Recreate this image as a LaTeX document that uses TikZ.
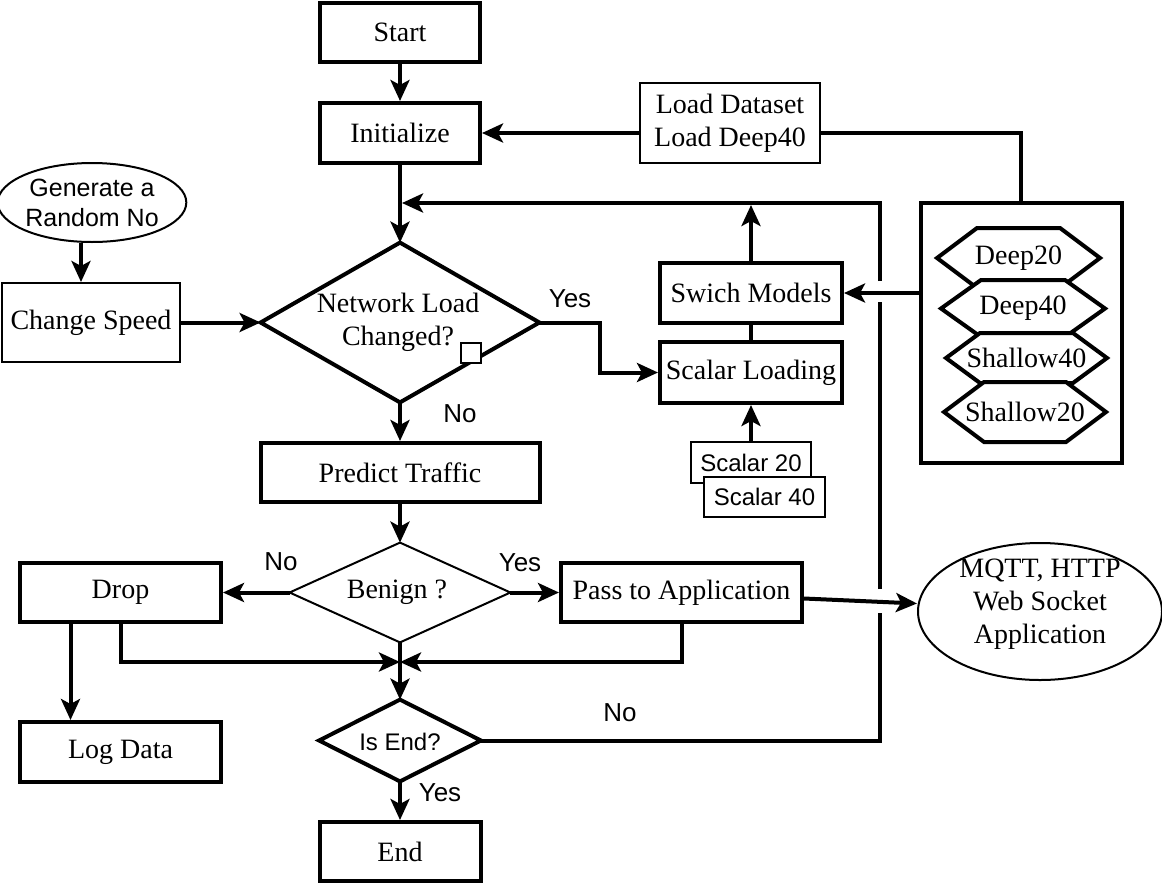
\documentclass[tikz,border=0pt]{standalone}
\usepackage{fontspec}
\setmainfont{Liberation Serif}
\newfontfamily\arialf{Liberation Sans}
\usetikzlibrary{shapes.geometric,arrows.meta}
\newcommand\serifsz{\fontsize{14}{16.5}\selectfont}
\newcommand\hexnode[7]{%
  \filldraw[hexline] ({#2-#4},#3) -- ({#2-#4+#6},{#3-#5}) -- ({#2+#4-#6},{#3-#5}) -- ({#2+#4},#3) -- ({#2+#4-#6},{#3+#5}) -- ({#2-#4+#6},{#3+#5}) -- cycle;
  \node[font=\serifsz,inner sep=0pt] (#1) at (#2,#3) {#7};}
\newcommand\diam[2]{\draw[#2] (#1.north) -- (#1.east) -- (#1.south) -- (#1.west) -- cycle;}
\begin{document}
\begin{tikzpicture}[x=0.5pt,y=-0.5pt,
  every node/.style={inner sep=0pt, align=center},
  box/.style={draw,line width=2pt,fill=white,font=\serifsz},
  tbox/.style={draw,line width=1pt,fill=white,font=\serifsz},
  dbox/.style={font=\serifsz},
  sans12/.style={font=\arialf\fontsize{12}{14}\selectfont},
  lbl/.style={font=\arialf\fontsize{13}{15}\selectfont},
  hexline/.style={draw=black,fill=white,line width=2pt,line join=miter},
  ln/.style={line width=2pt},
  tln/.style={line width=1pt},
  arr/.style={line width=2pt,-{Stealth[length=10.5pt,width=9.5pt,inset=2.5pt]}}
]
\useasboundingbox (0,0) rectangle (1162,884);

% main column
\node[box,minimum width=80pt,minimum height=29.5pt] (start) at (400,32.5) {Start};
\node[box,minimum width=80pt,minimum height=30pt] (init) at (400,133) {Initialize};
\node[tbox,minimum width=90pt,minimum height=40pt] (load) at (730,123) {Load Dataset\\Load Deep40};
\node[tbox,ellipse,minimum width=90pt,minimum height=39.5pt,font=\arialf\fontsize{12.5}{15}\selectfont] (gen) at (92,202.5) {Generate a\\Random No};
\node[tbox,minimum width=89pt,minimum height=39.5pt] (chg) at (91,322.5) {Change Speed};
\node[dbox,minimum width=139pt,minimum height=79.5pt] (net) at (400,322.5) {};
\diam{net}{ln,line join=miter}
\node[dbox] (nettxt) at (398,322) {Network Load\\Changed?};
\node[tbox,minimum size=10pt] (sq) at (471,352.5) {};
\node[box,minimum width=91pt,minimum height=30pt] (sw) at (751,293) {Swich Models};
\node[box,minimum width=91pt,minimum height=30.5pt] (scal) at (751,372.5) {Scalar Loading};
\node[tbox,sans12,minimum width=60pt,minimum height=20.5pt] (s20) at (751,462.5) {Scalar 20};
\node[tbox,sans12,minimum width=60.5pt,minimum height=20pt] (s40) at (764.5,497) {Scalar 40};
\node[box,minimum width=139.5pt,minimum height=29.5pt] (pred) at (400,472.5) {Predict Traffic};
\node[dbox,minimum width=110pt,minimum height=49.5pt] (ben) at (400,592.5) {};
\diam{ben}{tln,line join=miter}
\node[dbox] (bentxt) at (397,592) {Benign ?};
\node[box,minimum width=100.5pt,minimum height=29.5pt] (drop) at (120.5,592.5) {Drop};
\node[box,minimum width=120.5pt,minimum height=29.5pt] (pass) at (681.5,592.5) {Pass to Application};
\node[tbox,ellipse,minimum width=122pt,minimum height=68.5pt] (mqtt) at (1040,611.5) {};
\node[dbox] (mqtttxt) at (1040,604.5) {MQTT, HTTP\\Web Socket\\Application};
\node[dbox,minimum width=80.5pt,minimum height=40.5pt] (isend) at (400,740.5) {};
\diam{isend}{ln,line join=miter}
\node[sans12] (isendtxt) at (400,742) {Is End?};
\node[box,minimum width=100.5pt,minimum height=30pt] (logd) at (120.5,752) {Log Data};
\node[box,minimum width=80.5pt,minimum height=29.5pt] (endn) at (400,851.5) {End};
\node[box,minimum width=100.5pt,minimum height=130pt] (models) at (1021,332.5) {};

% model hexagons
\hexnode{d20}{1018.5}{258}{81.5}{30}{40}{Deep20}
\hexnode{d40}{1023}{308.5}{82}{28.5}{40}{Deep40}
\hexnode{sh40}{1026.5}{358}{80.5}{25}{34}{Shallow40}
\hexnode{sh20}{1025}{412}{81}{30}{40}{Shallow20}

% labels
\node[lbl] (yes1) at (570,299) {Yes};
\node[lbl] (no1) at (460,414) {No};
\node[lbl] (no2) at (281,562) {No};
\node[lbl] (yes2) at (520,563) {Yes};
\node[lbl] (no3) at (620,713) {No};
\node[lbl] (yes3) at (440,793) {Yes};

% coordinates
\coordinate (rb) at (880,740.5);
\coordinate (rg1) at (880,613);
\coordinate (rg2) at (880,589);
\coordinate (rg3) at (880,302);
\coordinate (rg4) at (880,281);
\coordinate (rt) at (880,203);
\coordinate (mj) at (402,203);
\coordinate (yb) at (600,322.5);
\coordinate (jn) at (400,662);

% connectors
\draw[arr] (start) -- (init);
\draw[arr] (init) -- (net.north);
\draw[arr] (load.west |- init.east) -- (init.east);
\draw[ln] (load.east |- init.east) -| (models.north);
\draw[arr] ([xshift=-5.5pt]gen.south) -- ([xshift=-5.5pt]gen.south |- chg.north);
\draw[arr] (chg.east) -- (net.west);
\draw[arr] (net.east) -- (yb) |- (scal.west);
\draw[arr] (net.south) -- (pred.north);
\draw[ln] (scal.north) -- (sw.south);
\draw[arr] (s20.north) -- (scal.south);
\draw[arr] (sw.north) -- ([yshift=-1pt]sw.north |- rt);
\draw[arr] (models.west |- sw.east) -- (sw.east);
\draw[arr] (pred.south) -- (ben.north);
\draw[arr] (ben.west) -- (drop.east);
\draw[arr] (ben.east) -- (pass.west);
\draw[arr] ([yshift=-3pt]pass.east) -- ([yshift=4pt]mqtt.west);
\draw[arr] (drop.south) |- (jn);
\draw[arr] (pass.south) |- (jn);
\draw[ln] (ben.south) -- (jn);
\draw[arr] (jn) -- (isend.north);
\draw[arr] ([xshift=-25pt]drop.south) -- ([xshift=-25pt]logd.north);
\draw[arr] (isend.south) -- (endn.north);
\draw[ln] (isend.east) -- (rb) -- (rg1);
\draw[ln] (rg2) -- (rg3);
\draw[arr] (rg4) -- (rt) -- (mj);
\end{tikzpicture}
\end{document}
